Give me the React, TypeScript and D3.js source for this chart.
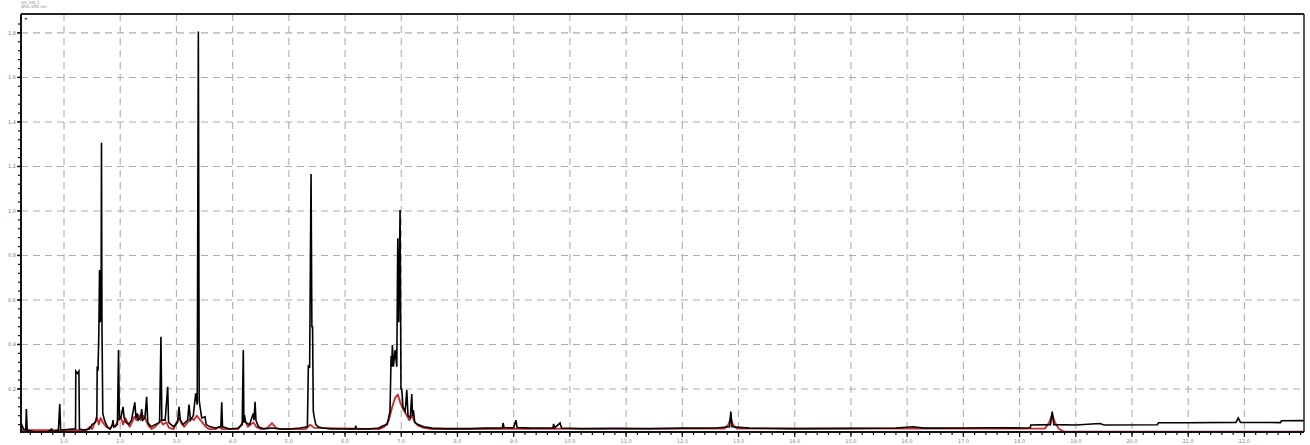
import React from "react";
import * as d3 from "d3";

// ---- Data (time in min, signal in AU) ----
const blackTrace: [number, number][] = [
  [0.24, 0.045], [0.28, 0.02], [0.32, 0.016], [0.33, 0.11], [0.345, 0.016], [0.4, 0.012], [0.5, 0.006],
  [0.62, 0.004], [0.72, 0.008], [0.78, 0.02], [0.8, 0.008], [0.9, 0.014], [0.925, 0.133], [0.94, 0.016],
  [1.05, 0.018], [1.15, 0.02], [1.205, 0.02], [1.21, 0.28], [1.24, 0.27], [1.265, 0.28], [1.275, 0.02],
  [1.35, 0.016], [1.45, 0.02], [1.5, 0.04], [1.56, 0.05], [1.585, 0.08], [1.59, 0.294], [1.605, 0.29],
  [1.62, 0.45], [1.632, 0.735], [1.645, 0.5], [1.66, 0.6], [1.667, 1.306], [1.675, 0.5], [1.69, 0.09],
  [1.72, 0.06], [1.77, 0.03], [1.82, 0.02], [1.86, 0.04], [1.872, 0.06], [1.885, 0.03], [1.95, 0.04],
  [1.97, 0.375], [1.985, 0.06], [2.02, 0.08], [2.05, 0.12], [2.07, 0.07], [2.1, 0.05], [2.15, 0.04],
  [2.2, 0.06], [2.26, 0.14], [2.28, 0.07], [2.3, 0.09], [2.32, 0.06], [2.36, 0.07], [2.383, 0.11],
  [2.4, 0.06], [2.44, 0.07], [2.47, 0.165], [2.49, 0.05], [2.55, 0.03], [2.62, 0.04], [2.7, 0.05],
  [2.725, 0.435], [2.74, 0.06], [2.8, 0.06], [2.845, 0.21], [2.86, 0.05], [2.95, 0.03], [3.02, 0.05],
  [3.046, 0.12], [3.07, 0.06], [3.12, 0.04], [3.2, 0.06], [3.224, 0.13], [3.25, 0.06], [3.3, 0.08],
  [3.343, 0.18], [3.37, 0.13], [3.39, 1.806], [3.405, 0.15], [3.42, 0.12], [3.45, 0.07], [3.509, 0.075],
  [3.53, 0.04], [3.6, 0.03], [3.7, 0.025], [3.79, 0.03], [3.806, 0.14], [3.82, 0.03], [3.95, 0.02],
  [4.1, 0.025], [4.17, 0.04], [4.19, 0.375], [4.2, 0.05], [4.211, 0.083], [4.23, 0.05], [4.3, 0.04],
  [4.368, 0.09], [4.38, 0.06], [4.399, 0.143], [4.415, 0.06], [4.429, 0.05], [4.46, 0.03], [4.55, 0.02],
  [4.7, 0.025], [4.85, 0.02], [5.0, 0.02], [5.2, 0.025], [5.33, 0.03], [5.347, 0.303], [5.37, 0.3],
  [5.395, 1.166], [5.41, 0.48], [5.422, 0.48], [5.435, 0.1], [5.454, 0.07], [5.48, 0.04], [5.52, 0.03],
  [5.6, 0.025], [5.75, 0.02], [6.0, 0.02], [6.18, 0.022], [6.19, 0.035], [6.2, 0.02], [6.4, 0.02],
  [6.6, 0.025], [6.676, 0.035], [6.75, 0.04], [6.8, 0.1], [6.819, 0.348], [6.83, 0.3], [6.842, 0.398],
  [6.86, 0.3], [6.89, 0.375], [6.92, 0.3], [6.938, 0.877], [6.955, 0.5], [6.979, 1.004], [6.995, 0.2],
  [7.009, 0.2], [7.03, 0.12], [7.07, 0.1], [7.098, 0.195], [7.12, 0.08], [7.16, 0.07], [7.187, 0.177],
  [7.2, 0.08], [7.215, 0.105], [7.24, 0.05], [7.3, 0.04], [7.4, 0.03], [7.55, 0.024], [7.8, 0.022],
  [8.2, 0.022], [8.5, 0.024], [8.8, 0.025], [8.811, 0.047], [8.83, 0.026], [9.0, 0.026], [9.04, 0.06],
  [9.06, 0.027], [9.3, 0.024], [9.7, 0.025], [9.71, 0.043], [9.73, 0.026], [9.826, 0.047], [9.85, 0.025],
  [10.2, 0.022], [10.8, 0.023], [11.4, 0.022], [12.0, 0.024], [12.6, 0.025], [12.84, 0.03], [12.863, 0.098],
  [12.885, 0.03], [13.2, 0.024], [14.0, 0.022], [15.0, 0.023], [15.8, 0.025], [16.1, 0.03], [16.3, 0.024],
  [17.0, 0.025], [17.5, 0.026], [18.0, 0.025], [18.19, 0.026], [18.2, 0.038], [18.55, 0.04], [18.58, 0.098],
  [18.61, 0.04], [19.0, 0.038], [19.43, 0.045], [19.5, 0.038], [20.45, 0.039], [20.47, 0.048], [21.0, 0.048],
  [21.85, 0.05], [21.89, 0.07], [21.93, 0.05], [22.64, 0.049], [22.66, 0.057], [23.06, 0.058],
];

const redTrace: [number, number][] = [
  [0.24, 0.015], [1.4, 0.015], [1.46, 0.03], [1.5, 0.02], [1.55, 0.05], [1.59, 0.07], [1.62, 0.04],
  [1.65, 0.07], [1.69, 0.05], [1.75, 0.03], [1.82, 0.02], [1.87, 0.04], [1.91, 0.03], [1.96, 0.06],
  [2.01, 0.075], [2.05, 0.04], [2.09, 0.07], [2.13, 0.05], [2.17, 0.03], [2.21, 0.05], [2.25, 0.075],
  [2.29, 0.06], [2.33, 0.083], [2.37, 0.06], [2.41, 0.08], [2.45, 0.065], [2.5, 0.035], [2.56, 0.02],
  [2.62, 0.03], [2.68, 0.045], [2.72, 0.06], [2.76, 0.04], [2.82, 0.05], [2.87, 0.025], [2.95, 0.02],
  [3.0, 0.05], [3.05, 0.07], [3.09, 0.045], [3.14, 0.03], [3.2, 0.05], [3.26, 0.07], [3.31, 0.06],
  [3.36, 0.08], [3.41, 0.065], [3.46, 0.05], [3.52, 0.03], [3.58, 0.02], [3.7, 0.02], [3.76, 0.03],
  [3.81, 0.02], [4.1, 0.02], [4.18, 0.05], [4.22, 0.06], [4.27, 0.03], [4.32, 0.04], [4.37, 0.05],
  [4.42, 0.03], [4.5, 0.02], [4.62, 0.025], [4.7, 0.047], [4.77, 0.025], [4.85, 0.02], [5.3, 0.02],
  [5.38, 0.04], [5.45, 0.025], [6.6, 0.02], [6.7, 0.03], [6.78, 0.06], [6.84, 0.12], [6.89, 0.16],
  [6.94, 0.175], [6.98, 0.14], [7.03, 0.11], [7.08, 0.09], [7.14, 0.06], [7.19, 0.08], [7.24, 0.05],
  [7.3, 0.035], [7.4, 0.025], [7.55, 0.02], [12.75, 0.022], [12.82, 0.04], [12.86, 0.07], [12.9, 0.04],
  [12.97, 0.022], [18.45, 0.022], [18.53, 0.05], [18.58, 0.085], [18.63, 0.05], [18.7, 0.02], [18.8, 0.008], [23.06, 0.008],
];

const xGridTicks = d3.range(1, 23, 1);
const xMinorTicks = d3.range(0.4, 23.05, 0.2);
const yGridTicks = [0.2, 0.4, 0.6, 0.8, 1.0, 1.2, 1.4, 1.6, 1.8];
const yMinorTicks = d3.range(0.04, 1.87, 0.04);
const titleLines = ["UV_VIS_1", "WVL:254 nm"];

const W = 1310;
const H = 445;
const left = 21, right = 1304, top = 14, bottom = 432;

export default function App() {
  const x = d3.scaleLinear().domain([0.235, 23.06]).range([left, right]);
  const y = d3.scaleLinear().domain([0, 1.885]).range([433.5, top]);
  const line = d3.line<[number, number]>().x((d) => x(d[0])).y((d) => y(d[1]));
  const fmt = d3.format(".1f");

  return (
    <svg width={W} height={H} style={{ position: "absolute", left: 0, top: 0, display: "block", background: "#fff" }}
      fontFamily="DejaVu Sans, sans-serif">
      <defs>
        <clipPath id="plot">
          <rect x={left} y={top} width={right - left} height={bottom - top} />
        </clipPath>
      </defs>
      {/* grid */}
      {yGridTicks.map((v) => (
        <line key={"gy" + v} x1={left} x2={right} y1={y(v)} y2={y(v)} stroke="#aeaeae" strokeWidth={1.1} strokeDasharray="7,5" />
      ))}
      {xGridTicks.map((t) => (
        <line key={"gx" + t} x1={x(t)} x2={x(t)} y1={top} y2={bottom} stroke="#aeaeae" strokeWidth={1.1} strokeDasharray="7,5" />
      ))}
      {/* traces */}
      <g clipPath="url(#plot)">
        <path d={line(redTrace) || ""} fill="none" stroke="#d0262a" strokeWidth={1.8} strokeLinejoin="round" />
        <path d={line(blackTrace) || ""} fill="none" stroke="#000" strokeWidth={1.6} strokeLinejoin="miter" />
      </g>
      {/* frame */}
      <line x1={left} x2={right} y1={top} y2={top} stroke="#222" strokeWidth={2} />
      <line x1={right} x2={right} y1={top} y2={bottom} stroke="#222" strokeWidth={1.5} />
      <line x1={left} x2={left} y1={top} y2={bottom + 1} stroke="#111" strokeWidth={2} />
      <line x1={left} x2={right} y1={bottom} y2={bottom} stroke="#111" strokeWidth={2} />
      {/* y ticks */}
      {yMinorTicks.map((v) => (
        <line key={"ym" + v} x1={left - 3} x2={left} y1={y(v)} y2={y(v)} stroke="#111" strokeWidth={1.2} />
      ))}
      {yGridTicks.map((v) => (
        <g key={"yl" + v}>
          <line x1={left - 4} x2={left} y1={y(v)} y2={y(v)} stroke="#111" strokeWidth={1.4} />
          <text x={left - 5} y={y(v)} dy="0.35em" textAnchor="end" fontSize={5} fill="#777">{fmt(v)}</text>
        </g>
      ))}
      {/* x ticks */}
      {xMinorTicks.map((t) => (
        <line key={"xm" + t} x1={x(t)} x2={x(t)} y1={bottom} y2={bottom + 3} stroke="#111" strokeWidth={1.2} />
      ))}
      {xGridTicks.map((t) => (
        <g key={"xl" + t}>
          <line x1={x(t)} x2={x(t)} y1={bottom} y2={bottom + 5} stroke="#111" strokeWidth={1.2} />
          <text x={x(t)} y={bottom + 11} textAnchor="middle" fontSize={5} fill="#888">{fmt(t)}</text>
        </g>
      ))}
      {/* title */}
      {titleLines.map((s, i) => (
        <text key={s} x={left} y={4 + i * 4} fontSize={4} fill="#888">{s}</text>
      ))}
      <text x={left + 4} y={top + 6} fontSize={5} fill="#333">▸</text>
    </svg>
  );
}
